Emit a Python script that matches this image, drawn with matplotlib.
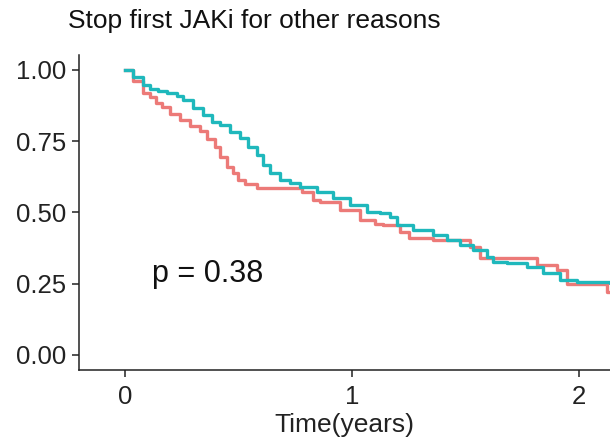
import numpy as np
import matplotlib
matplotlib.use("Agg")
from matplotlib import pyplot as plt

# Kaplan-Meier curves (time in years, survival)
red_time = [0, 0.035, 0.079, 0.11, 0.137, 0.163, 0.198, 0.242, 0.286, 0.33,
            0.361, 0.396, 0.419, 0.449, 0.476, 0.498, 0.529, 0.581, 0.78,
            0.828, 0.86, 0.947, 1.035, 1.10, 1.137, 1.211, 1.25, 1.357, 1.52,
            1.564, 1.815, 1.903, 1.947, 2.123, 2.3]
red_surv = [1.0, 0.96, 0.92, 0.905, 0.885, 0.87, 0.845, 0.825, 0.805, 0.785,
            0.757, 0.73, 0.695, 0.66, 0.64, 0.615, 0.60, 0.585, 0.572,
            0.544, 0.535, 0.51, 0.474, 0.46, 0.456, 0.432, 0.41, 0.404, 0.379,
            0.34, 0.316, 0.298, 0.25, 0.22, 0.22]

teal_time = [0, 0.037, 0.081, 0.110, 0.147, 0.184, 0.228, 0.257, 0.301,
             0.345, 0.382, 0.419, 0.463, 0.507, 0.543, 0.580, 0.609, 0.639,
             0.683, 0.727, 0.771, 0.844, 0.918, 0.991, 1.064, 1.123, 1.167,
             1.197, 1.270, 1.358, 1.417, 1.476, 1.534, 1.593, 1.623, 1.681,
             1.770, 1.843, 1.916, 1.990, 2.137, 2.3]
teal_surv = [1.0, 0.976, 0.947, 0.932, 0.927, 0.918, 0.908, 0.895, 0.866,
             0.842, 0.819, 0.807, 0.784, 0.760, 0.731, 0.702, 0.667, 0.637,
             0.614, 0.602, 0.590, 0.573, 0.550, 0.526, 0.503, 0.497, 0.485,
             0.456, 0.439, 0.421, 0.404, 0.386, 0.368, 0.345, 0.327, 0.321,
             0.310, 0.287, 0.263, 0.257, 0.251, 0.251]

y_ticks = [0, 0.25, 0.5, 0.75, 1.0]
y_labels = ["0.00", "0.25", "0.50", "0.75", "1.00"]
x_ticks = [0, 1, 2]

plt.rcParams['font.family'] = ['Liberation Sans', 'DejaVu Sans']

fig = plt.figure(figsize=(6.1, 4.42), dpi=100)
ax = fig.add_axes([0.1295, 0.163, 0.8705, 0.7126])

ax.step(red_time, red_surv, where='post', color='#EC7A78', lw=2.4)
ax.step(teal_time, teal_surv, where='post', color='#1FB8BC', lw=2.4)

ax.set_xlim(-0.203, 2.137)
ax.set_ylim(-0.0526, 1.0526)
ax.set_yticks(y_ticks)
ax.set_yticklabels(y_labels)
ax.set_xticks(x_ticks)

for side in ['top', 'right']:
    ax.spines[side].set_visible(False)
for side in ['left', 'bottom']:
    ax.spines[side].set_linewidth(1.1)
    ax.spines[side].set_color('#222222')
ax.tick_params(length=5, width=1.1, color='#222222', labelsize=18.5,
               labelcolor='#222222')
ax.tick_params(axis='y', pad=4)
ax.tick_params(axis='x', pad=6)

ax.text(0.12, 0.285, "p = 0.38", fontsize=22, color='#111111',
        ha='left', va='center')
ax.set_xlabel("Time(years)", fontsize=19, color='#222222', labelpad=3)
fig.text(0.112, 0.952, "Stop first JAKi for other reasons", fontsize=19,
         color='#111111', ha='left', va='center')

fig.savefig("out.png", dpi=100)
